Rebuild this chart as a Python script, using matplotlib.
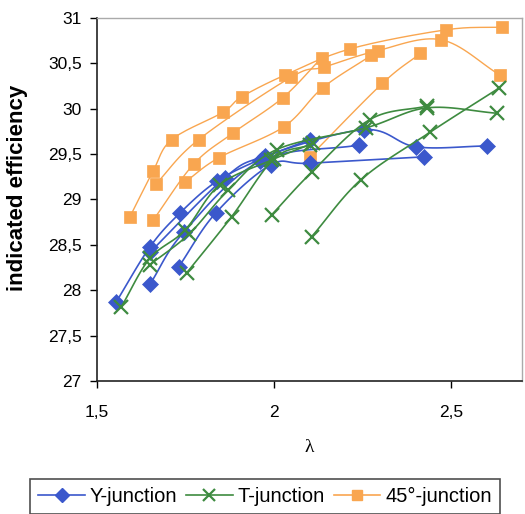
import numpy as np
import matplotlib
matplotlib.use("Agg")
import matplotlib.pyplot as plt
from matplotlib.lines import Line2D

plt.rcParams['font.family'] = ['Liberation Sans', 'DejaVu Sans']

# lambda / indicated efficiency, one list pair per operating curve
y_lam = [
    [1.554, 1.650, 1.734, 1.838, 1.965, 2.100],
    [1.650, 1.861, 1.975, 2.255, 2.401, 2.601],
    [1.650, 1.745, 1.960, 2.241],
    [1.731, 1.835, 1.990, 2.100, 2.424],
]
y_eff = [
    [27.87, 28.48, 28.85, 29.20, 29.45, 29.66],
    [28.42, 29.24, 29.48, 29.77, 29.58, 29.59],
    [28.07, 28.64, 29.42, 29.60],
    [28.26, 28.85, 29.38, 29.40, 29.47],
]

t_lam = [
    [1.569, 1.649, 1.748, 1.846, 1.990, 2.110],
    [1.649, 1.760, 1.870, 2.007, 2.260, 2.432, 2.630],
    [1.753, 1.880, 2.000, 2.100],
    [1.993, 2.106, 2.270, 2.432],
    [2.106, 2.246, 2.440, 2.636],
]
t_eff = [
    [27.82, 28.35, 28.66, 29.16, 29.43, 29.62],
    [28.28, 28.62, 29.10, 29.55, 29.79, 30.01, 29.95],
    [28.19, 28.81, 29.45, 29.60],
    [28.83, 29.30, 29.88, 30.03],
    [28.59, 29.22, 29.74, 30.23],
]

d45_lam = [
    [1.593, 1.658, 1.711, 1.855, 1.908, 2.030, 2.215, 2.486, 2.644],
    [1.666, 1.787, 2.049, 2.142, 2.292, 2.472, 2.638],
    [1.658, 1.773, 1.883, 2.024, 2.134],
    [1.748, 1.844, 2.027, 2.137, 2.275],
    [2.100, 2.306, 2.413],
]
d45_eff = [
    [28.81, 29.31, 29.66, 29.96, 30.13, 30.37, 30.66, 30.87, 30.90],
    [29.17, 29.66, 30.35, 30.46, 30.64, 30.76, 30.37],
    [28.77, 29.39, 29.73, 30.12, 30.56],
    [29.19, 29.46, 29.80, 30.23, 30.59],
    [29.47, 30.28, 30.61],
]

series_names = ["Y-junction", "T-junction", "45°-junction"]
x_ticks = [1.5, 2.0, 2.5]
x_tick_labels = ["1,5", "2", "2,5"]
y_ticks = [27, 27.5, 28, 28.5, 29, 29.5, 30, 30.5, 31]
y_tick_labels = ["27", "27,5", "28", "28,5", "29", "29,5", "30", "30,5", "31"]

BLUE = "#3b58cc"
GREEN = "#3e8b40"
ORANGE = "#f9a650"


def smooth(xs, ys, n=16):
    """Catmull-Rom curve through the given points (smoothed line style)."""
    xs = np.asarray(xs, float)
    ys = np.asarray(ys, float)
    if len(xs) < 3:
        return xs, ys
    px = np.concatenate([[2 * xs[0] - xs[1]], xs, [2 * xs[-1] - xs[-2]]])
    py = np.concatenate([[2 * ys[0] - ys[1]], ys, [2 * ys[-1] - ys[-2]]])
    ox, oy = [], []
    t = np.linspace(0, 1, n, endpoint=False)
    for i in range(1, len(px) - 2):
        for P, out in ((px, ox), (py, oy)):
            p0, p1, p2, p3 = P[i - 1], P[i], P[i + 1], P[i + 2]
            seg = 0.5 * ((2 * p1) + (-p0 + p2) * t
                         + (2 * p0 - 5 * p1 + 4 * p2 - p3) * t ** 2
                         + (-p0 + 3 * p1 - 3 * p2 + p3) * t ** 3)
            out.extend(seg)
    ox.append(xs[-1])
    oy.append(ys[-1])
    return np.array(ox), np.array(oy)


fig = plt.figure(figsize=(5.25, 5.14), dpi=100)
ax = fig.add_axes([0.1848, 0.2588, 0.8095, 0.7062])

styles = [
    (y_lam, y_eff, BLUE, "D", 8, 1.2, 3),
    (t_lam, t_eff, GREEN, "x", 10, 1.2, 4),
    (d45_lam, d45_eff, ORANGE, "s", 8, 1.0, 2),
]
for lams, effs, col, mk, ms, lw, z in styles:
    for xs, ys in zip(lams, effs):
        sx, sy = smooth(xs, ys)
        ax.plot(sx, sy, color=col, lw=lw, zorder=z)
        ax.plot(xs, ys, linestyle="none", marker=mk, ms=ms, color=col,
                mec=col, mew=1.6 if mk == "x" else 0.5, zorder=z + 0.5)

ax.set_xlim(1.5, 2.7)
ax.set_ylim(27, 31)
ax.set_xticks(x_ticks)
ax.set_xticklabels(x_tick_labels)
ax.set_yticks(y_ticks)
ax.set_yticklabels(y_tick_labels)
ax.tick_params(direction="out", length=5, width=1, labelsize=12.5, pad=6)
ax.tick_params(axis="x", pad=12)
for side in ("left", "bottom"):
    ax.spines[side].set_color("#222222")
    ax.spines[side].set_linewidth(1.2)
for side in ("top", "right"):
    ax.spines[side].set_color("#aaaaaa")
    ax.spines[side].set_linewidth(1.0)

ax.set_ylabel("indicated efficiency", fontsize=16, fontweight="bold")
ax.yaxis.set_label_coords(-0.163, 0.533)
ax.set_xlabel("λ", fontsize=14, family=["Liberation Serif", "DejaVu Serif"], labelpad=14)

handles = [
    Line2D([], [], color=BLUE, marker="D", ms=7, lw=1.2),
    Line2D([], [], color=GREEN, marker="x", ms=9, mew=1.6, lw=1.2),
    Line2D([], [], color=ORANGE, marker="s", ms=7, lw=1.2),
]
leg = fig.legend(handles, series_names, loc="lower center", ncol=3,
                 bbox_to_anchor=(0.505, -0.02), fontsize=14.5, frameon=True,
                 fancybox=False, edgecolor="#222222", handlelength=2.3,
                 columnspacing=0.45, handletextpad=0.25, borderpad=0.4)
leg.get_frame().set_linewidth(1.2)

fig.savefig("out.png", dpi=100)
